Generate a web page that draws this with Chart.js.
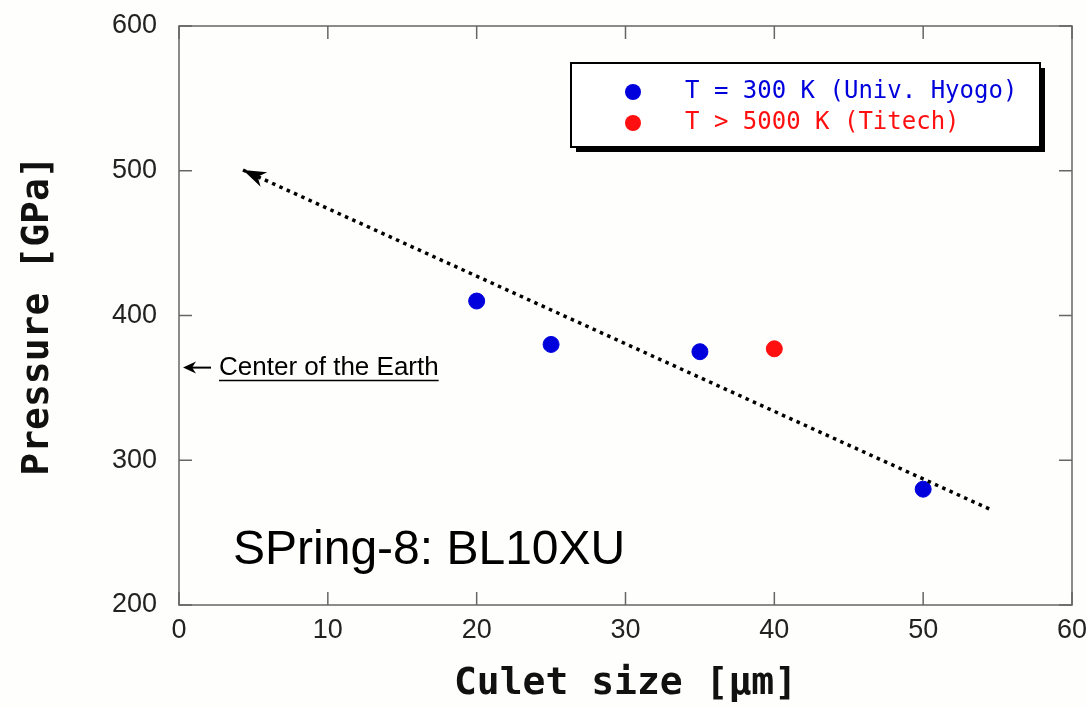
<!DOCTYPE html>
<html>
<head>
<meta charset="utf-8">
<script src="https://cdn.jsdelivr.net/npm/chart.js@4.4.1/dist/chart.umd.min.js"></script>
<style>
  html, body { margin:0; padding:0; background:#fefefc; }
  #wrap { width:1086px; height:707px; }
</style>
</head>
<body>
<div id="wrap"><canvas id="chart" width="1086" height="707"></canvas></div>
<script>
// data
const HYOGO_X = [20, 25, 35, 50];
const HYOGO_Y = [410, 380, 375, 280];
const TITECH_X = [40];
const TITECH_Y = [377];
const TREND_X = [4.3, 54.6];
const TREND_Y = [500.5, 265.6];
const X_TICKS = [0, 10, 20, 30, 40, 50, 60];
const Y_TICKS = [200, 300, 400, 500, 600];
const EARTH_CENTER = 364; // GPa
const LABELS = ['T = 300 K (Univ. Hyogo)', 'T > 5000 K (Titech)'];

const BLUE = '#0000dd', RED = '#ff1010', FRAME = '#666';

const pts = (xs, ys) => xs.map((x, i) => ({ x, y: ys[i] }));

function arrowHead(ctx, x, y, ang, len, wid) {
  // swept arrowhead, tip at (x,y), pointing along ang
  ctx.save();
  ctx.translate(x, y); ctx.rotate(ang);
  ctx.beginPath();
  ctx.moveTo(0, 0);
  ctx.lineTo(-len, -wid);
  ctx.lineTo(-len * 0.7, 0);
  ctx.lineTo(-len, wid);
  ctx.closePath();
  ctx.fill();
  ctx.restore();
}

const decor = {
  id: 'decor',
  afterDatasetsDraw(chart) {
    const { ctx, chartArea: a, scales: { x, y } } = chart;
    ctx.save();
    // frame + inward ticks
    ctx.strokeStyle = FRAME; ctx.lineWidth = 1.5;
    ctx.strokeRect(a.left, a.top, a.right - a.left, a.bottom - a.top);
    const tl = 13;
    ctx.beginPath();
    x.ticks.forEach((t, i) => {
      const px = x.getPixelForTick(i);
      ctx.moveTo(px, a.bottom); ctx.lineTo(px, a.bottom - tl);
      ctx.moveTo(px, a.top); ctx.lineTo(px, a.top + tl);
    });
    y.ticks.forEach((t, i) => {
      const py = y.getPixelForTick(i);
      ctx.moveTo(a.left, py); ctx.lineTo(a.left + tl, py);
      ctx.moveTo(a.right, py); ctx.lineTo(a.right - tl, py);
    });
    ctx.stroke();

    // arrowhead on the trend line
    const tm = chart.getDatasetMeta(2).data;
    const p0 = tm[0], p1 = tm[1];
    ctx.fillStyle = '#000';
    arrowHead(ctx, p0.x, p0.y, Math.atan2(p0.y - p1.y, p0.x - p1.x), 23, 8);

    // centre of the Earth marker
    const ey = y.getPixelForValue(EARTH_CENTER);
    ctx.strokeStyle = '#000'; ctx.lineWidth = 2;
    ctx.beginPath(); ctx.moveTo(a.left + 32, ey); ctx.lineTo(a.left + 12, ey); ctx.stroke();
    arrowHead(ctx, a.left + 4, ey, Math.PI, 13, 6);
    ctx.font = '26px "Liberation Sans", Arial, sans-serif';
    ctx.textBaseline = 'middle'; ctx.textAlign = 'left';
    const txt = 'Center of the Earth';
    const tx = a.left + 40;
    ctx.fillText(txt, tx, ey);
    const tw = ctx.measureText(txt).width;
    ctx.lineWidth = 1.5;
    ctx.beginPath(); ctx.moveTo(tx, ey + 13); ctx.lineTo(tx + tw, ey + 13); ctx.stroke();

    // beamline label
    ctx.font = '48px "Liberation Sans", Arial, sans-serif';
    ctx.textBaseline = 'alphabetic';
    ctx.fillText('SPring-8: BL10XU', a.left + 54, 564);

    // legend box with shadow
    const bx = 571, by = 63, bw = 469, bh = 84;
    ctx.fillStyle = '#000';
    ctx.fillRect(bx + 5, by + 5, bw, bh);
    ctx.fillStyle = '#fff';
    ctx.fillRect(bx, by, bw, bh);
    ctx.strokeStyle = '#000'; ctx.lineWidth = 2;
    ctx.strokeRect(bx, by, bw, bh);
    ctx.font = '24px "DejaVu Sans Mono", monospace';
    ctx.textBaseline = 'middle';
    [[BLUE, 92], [RED, 123]].forEach(([c, ly], i) => {
      ctx.fillStyle = c;
      ctx.beginPath(); ctx.arc(633, ly, 8, 0, Math.PI * 2); ctx.fill();
      ctx.fillText(chart.data.datasets[i].label, 685, ly);
    });
    ctx.restore();
  }
};

new Chart(document.getElementById('chart'), {
  type: 'scatter',
  data: {
    datasets: [
      { label: LABELS[0], data: pts(HYOGO_X, HYOGO_Y), backgroundColor: BLUE, borderColor: BLUE, pointRadius: 8, pointHoverRadius: 8 },
      { label: LABELS[1], data: pts(TITECH_X, TITECH_Y), backgroundColor: RED, borderColor: RED, pointRadius: 8, pointHoverRadius: 8 },
      { label: 'trend', data: pts(TREND_X, TREND_Y), showLine: true, borderColor: '#000', borderWidth: 3.5,
        borderDash: [3.5, 4.5], pointRadius: 0, fill: false, order: -1 }
    ]
  },
  options: {
    responsive: false,
    animation: false,
    layout: { padding: { top: 26, right: 14, left: 0, bottom: 0 } },
    plugins: { legend: { display: false }, tooltip: { enabled: false } },
    scales: {
      x: {
        type: 'linear', min: 0, max: 60,
        afterBuildTicks: s => { s.ticks = X_TICKS.map(v => ({ value: v })); },
        afterFit: s => { s.height = 102; s.paddingLeft = 0; s.paddingRight = 0; },
        grid: { display: false, drawTicks: false },
        border: { display: false },
        ticks: { padding: 9, color: '#222', font: { family: '"Liberation Sans", Arial, sans-serif', size: 27 }, maxRotation: 0 },
        title: { display: true, text: 'Culet size [μm]', color: '#111',
          font: { family: '"DejaVu Sans Mono", monospace', size: 38, weight: 'bold' }, padding: { top: 0, bottom: 0 } }
      },
      y: {
        type: 'linear', min: 200, max: 600,
        afterBuildTicks: s => { s.ticks = Y_TICKS.map(v => ({ value: v })); },
        afterFit: s => { s.width = 179; s.paddingTop = 0; s.paddingBottom = 0; },
        grid: { display: false, drawTicks: false },
        border: { display: false },
        ticks: { padding: 22, color: '#222', font: { family: '"Liberation Sans", Arial, sans-serif', size: 27 } },
        title: { display: true, text: 'Pressure [GPa]', color: '#111',
          font: { family: '"DejaVu Sans Mono", monospace', size: 38, weight: 'bold' }, padding: { top: 15, bottom: 0 } }
      }
    }
  },
  plugins: [decor]
});
</script>
</body>
</html>
